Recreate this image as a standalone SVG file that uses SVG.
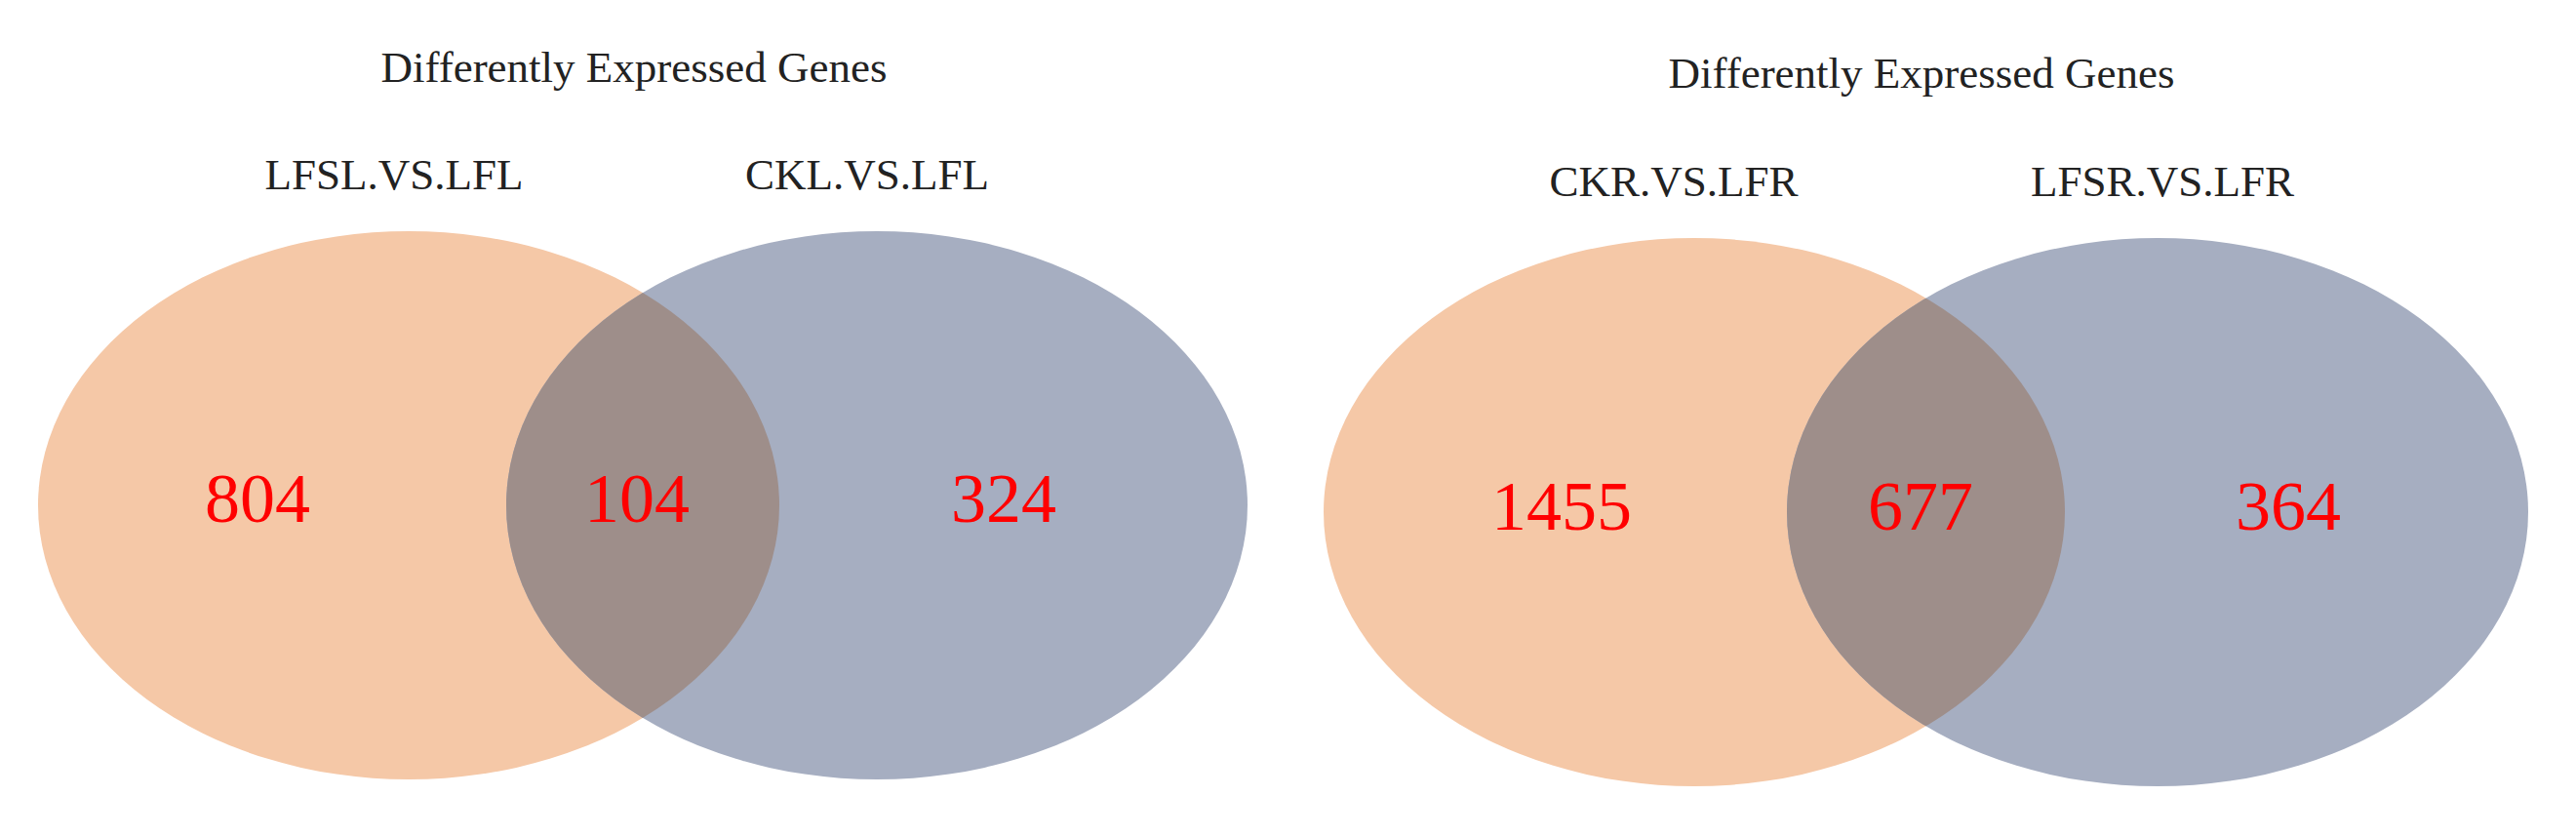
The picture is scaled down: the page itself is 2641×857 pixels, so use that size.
<svg xmlns="http://www.w3.org/2000/svg" width="2641" height="857" viewBox="0 0 2641 857">
<style>
.title{font-family:"Liberation Serif","Times New Roman",serif;font-size:45px;fill:#222;text-anchor:middle}
.num{font-family:"Liberation Serif","Times New Roman",serif;font-size:72px;fill:#ff0000;text-anchor:middle}
.orange{fill:#F5C8A7}
.blue{fill:#A6AEC1}
.over{fill:#9E8E8A}
</style>
<defs>
<clipPath id="clipA"><ellipse cx="419" cy="518" rx="380" ry="281"/></clipPath>
<clipPath id="clipB"><ellipse cx="1737" cy="525" rx="380" ry="281"/></clipPath>
</defs>
<rect width="2641" height="857" fill="#ffffff"/>
<g id="venn-left">
<text class="title" x="650" y="84">Differently Expressed Genes</text>
<g id="set-LFSL">
<ellipse class="orange" cx="419" cy="518" rx="380" ry="281"/>
<text class="title" x="404" y="194">LFSL.VS.LFL</text>
</g>
<g id="set-CKL">
<ellipse class="blue" cx="899" cy="518" rx="380" ry="281"/>
<text class="title" x="889" y="194">CKL.VS.LFL</text>
</g>
<g id="overlap-left">
<ellipse class="over" cx="899" cy="518" rx="380" ry="281" clip-path="url(#clipA)"/>
</g>
<text class="num" x="264" y="535">804</text>
<text class="num" x="653" y="535">104</text>
<text class="num" x="1029" y="535">324</text>
</g>
<g id="venn-right">
<text class="title" x="1970" y="90">Differently Expressed Genes</text>
<g id="set-CKR">
<ellipse class="orange" cx="1737" cy="525" rx="380" ry="281"/>
<text class="title" x="1716" y="201">CKR.VS.LFR</text>
</g>
<g id="set-LFSR">
<ellipse class="blue" cx="2212" cy="525" rx="380" ry="281"/>
<text class="title" x="2217" y="201">LFSR.VS.LFR</text>
</g>
<g id="overlap-right">
<ellipse class="over" cx="2212" cy="525" rx="380" ry="281" clip-path="url(#clipB)"/>
</g>
<text class="num" x="1601" y="543">1455</text>
<text class="num" x="1969" y="543">677</text>
<text class="num" x="2346" y="543">364</text>
</g>
<g id="connectors"></g>
</svg>
